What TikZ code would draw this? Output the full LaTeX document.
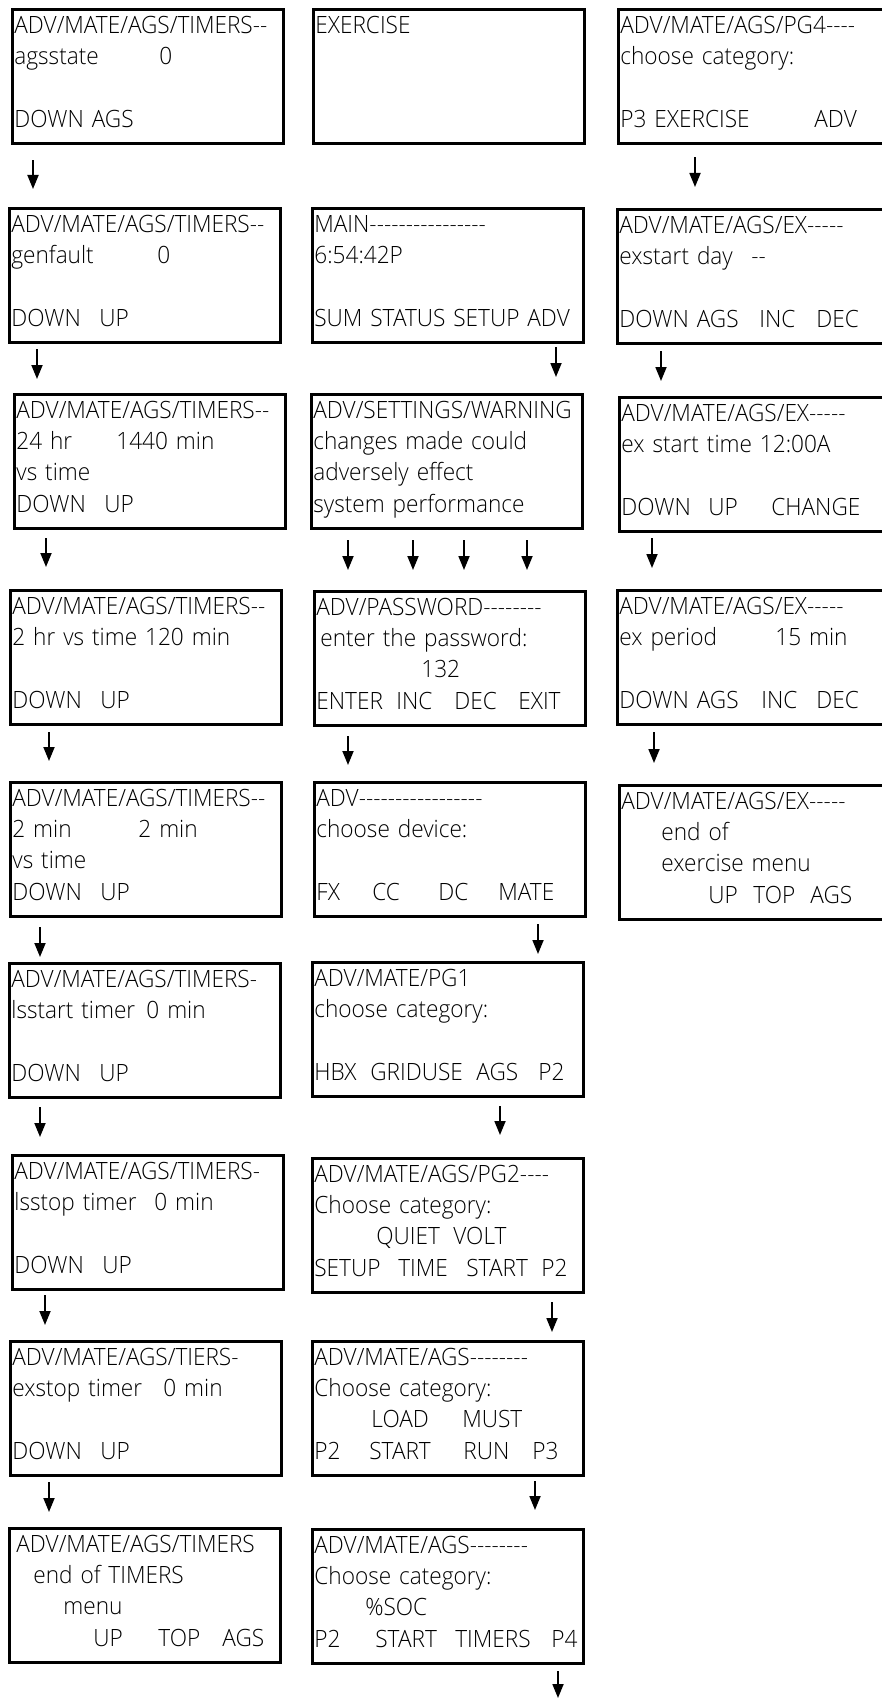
\documentclass[tikz,border=0pt]{standalone}
\usepackage{fontspec}
\usepackage{tikz}
\usetikzlibrary{arrows.meta}
\newfontfamily\lcdfont{Open Sans}[UprightFont={* Light}, FakeStretch=0.95]
\newcommand{\field}[2]{\makebox[#1pt][l]{#2}}
\exhyphenpenalty=10000
\hyphenpenalty=10000

\begin{document}
\begin{tikzpicture}[
  x=1pt, y=1pt,
  screen/.style={draw, line width=2.8pt, anchor=north west, inner xsep=2pt, inner ysep=0pt, text width=267.2pt, text height=23.8pt, text depth=110.4pt, align=left, font=\lcdfont\fontsize{23.8pt}{31.3pt}\selectfont},
  flow/.style={-{Triangle[width=11pt,length=14pt]}, line width=1.8pt},
  gap/.style 2 args={shorten <=#1pt, shorten >=#2pt},
]
\useasboundingbox (0,0) rectangle (881,-1699);

% TIMERS column
\node[screen] (t1) at (11,-8) {ADV/MATE/AGS/TIMERS--\\ \field{145}{agsstate}0\\ \mbox{}\\ DOWN AGS};
\node[screen] (t2) at (8,-207) {ADV/MATE/AGS/TIMERS--\\ \field{146}{genfault}0\\ \mbox{}\\ \field{88}{DOWN}UP};
\node[screen] (t3) at (13,-393) {ADV/MATE/AGS/TIMERS--\\ \field{100}{24 hr}1440 min\\ vs time\\ \field{88}{DOWN}UP};
\node[screen] (t4) at (9,-589) {ADV/MATE/AGS/TIMERS--\\ 2 hr vs time 120 min\\ \mbox{}\\ \field{88}{DOWN}UP};
\node[screen] (t5) at (9,-781) {ADV/MATE/AGS/TIMERS--\\ \field{126}{2 min}2 min\\ vs time\\ \field{88}{DOWN}UP};
\node[screen] (t6) at (8,-962) {ADV/MATE/AGS/TIMERS-\\ \field{135}{lsstart timer}0 min\\ \mbox{}\\ \field{88}{DOWN}UP};
\node[screen] (t7) at (11,-1154) {ADV/MATE/AGS/TIMERS-\\ \field{140}{lsstop timer}0 min\\ \mbox{}\\ \field{88}{DOWN}UP};
\node[screen] (t8) at (9,-1340) {ADV/MATE/AGS/TIERS-\\ \field{151}{exstop timer}0 min\\ \mbox{}\\ \field{88}{DOWN}UP};
\node[screen] (t9) at (8,-1527) {\hspace*{5pt}ADV/MATE/AGS/TIMERS\\ \hspace*{22pt}end of TIMERS\\ \hspace*{52pt}menu\\ \hspace*{82pt}\field{65}{UP}\field{64}{TOP}AGS};

% main menu column
\node[screen] (m1) at (312,-8) {EXERCISE};
\node[screen] (m2) at (311,-207) {MAIN----------------\\ 6:54:42P\\ \mbox{}\\ SUM STATUS SETUP ADV};
\node[screen] (m3) at (310,-393) {ADV/SETTINGS/WARNING\\ changes made could\\ adversely effect\\ system performance};
\node[screen] (m4) at (313,-590) {ADV/PASSWORD--------\\ \hspace*{4pt}enter the password:\\ \hspace*{105pt}132\\ \field{80}{ENTER}\field{58}{INC}\field{64}{DEC}EXIT};
\node[screen] (m5) at (313,-781) {ADV-----------------\\ choose device:\\ \mbox{}\\ \field{56}{FX}\field{66}{CC}\field{60}{DC}MATE};
\node[screen] (m6) at (311,-961) {ADV/MATE/PG1\\ choose category:\\ \mbox{}\\ \field{56}{HBX}\field{106}{GRIDUSE}\field{62}{AGS}P2};
\node[screen] (m7) at (311,-1157) {ADV/MATE/AGS/PG2----\\ Choose category:\\ \hspace*{62pt}\field{77}{QUIET}VOLT\\ \field{84}{SETUP}\field{68}{TIME}\field{75}{START}P2};
\node[screen] (m8) at (311,-1340) {ADV/MATE/AGS--------\\ Choose category:\\ \hspace*{57pt}\field{91}{LOAD}MUST\\ \field{55}{P2}\field{94}{START}\field{69}{RUN}P3};
\node[screen] (m9) at (311,-1528) {ADV/MATE/AGS--------\\ Choose category:\\ \hspace*{51pt}\%SOC\\ \field{61}{P2}\field{80}{START}\field{96}{TIMERS}P4};
\coordinate (more) at (558,-1698);

% EXERCISE column
\node[screen] (e1) at (617,-8) {ADV/MATE/AGS/PG4----\\ choose category:\\ \mbox{}\\ \field{194}{P3 EXERCISE}ADV};
\node[screen] (e2) at (616,-208) {ADV/MATE/AGS/EX-----\\ \field{132}{exstart day}--\\ \mbox{}\\ \field{140}{DOWN AGS}\field{57}{INC}DEC};
\node[screen] (e3) at (618,-396) {ADV/MATE/AGS/EX-----\\ ex start time 12:00A\\ \mbox{}\\ \field{87}{DOWN}\field{63}{UP}CHANGE};
\node[screen] (e4) at (616,-589) {ADV/MATE/AGS/EX-----\\ \field{156}{ex period}15 min\\ \mbox{}\\ \field{142}{DOWN AGS}\field{55}{INC}DEC};
\node[screen] (e5) at (618,-784) {ADV/MATE/AGS/EX-----\\ \hspace*{40pt}end of\\ \hspace*{40pt}exercise menu\\ \hspace*{87pt}\field{45}{UP}\field{57}{TOP}AGS};

% Arrows
\draw[flow, gap={15.4}{18}] ([xshift=22pt]t1.south west) -- ([xshift=25pt]t2.north west);
\draw[flow, gap={5.4}{14}] ([xshift=29pt]t2.south west) -- ([xshift=24pt]t3.north west);
\draw[flow, gap={8.4}{22}] ([xshift=33pt]t3.south west) -- ([xshift=37pt]t4.north west);
\draw[flow, gap={6.4}{20}] ([xshift=40pt]t4.south west) -- ([xshift=40pt]t5.north west);
\draw[flow, gap={9.4}{5}] ([xshift=31pt]t5.south west) -- ([xshift=32pt]t6.north west);
\draw[flow, gap={8.4}{17}] ([xshift=32pt]t6.south west) -- ([xshift=29pt]t7.north west);
\draw[flow, gap={4.4}{15}] ([xshift=34pt]t7.south west) -- ([xshift=36pt]t8.north west);
\draw[flow, gap={5.4}{15}] ([xshift=40pt]t8.south west) -- ([xshift=41pt]t9.north west);

\draw[flow, gap={3.4}{16}] ([xshift=245pt]m2.south west) -- ([xshift=246pt]m3.north west);
\draw[flow, gap={10.4}{20}] ([xshift=38pt]m3.south west) -- ([xshift=35pt]m4.north west);
\draw[flow, gap={10.4}{20}] ([xshift=103pt]m3.south west) -- ([xshift=100pt]m4.north west);
\draw[flow, gap={10.4}{20}] ([xshift=154pt]m3.south west) -- ([xshift=151pt]m4.north west);
\draw[flow, gap={10.4}{20}] ([xshift=217pt]m3.south west) -- ([xshift=214pt]m4.north west);
\draw[flow, gap={9.4}{16}] ([xshift=35pt]m4.south west) -- ([xshift=35pt]m5.north west);
\draw[flow, gap={6.4}{7}] ([xshift=225pt]m5.south west) -- ([xshift=227pt]m6.north west);
\draw[flow, gap={8.4}{22}] ([xshift=189pt]m6.south west) -- ([xshift=189pt]m7.north west);
\draw[flow, gap={8.4}{8}] ([xshift=241pt]m7.south west) -- ([xshift=241pt]m8.north west);
\draw[flow, gap={4.4}{18}] ([xshift=224pt]m8.south west) -- ([xshift=224pt]m9.north west);
\draw[flow, gap={6.4}{0}] ([xshift=247pt]m9.south west) -- (more);

\draw[flow, gap={12.4}{21}] ([xshift=78pt]e1.south west) -- ([xshift=79pt]e2.north west);
\draw[flow, gap={6.4}{15}] ([xshift=45pt]e2.south west) -- ([xshift=43pt]e3.north west);
\draw[flow, gap={5.4}{21}] ([xshift=34pt]e3.south west) -- ([xshift=36pt]e4.north west);
\draw[flow, gap={6.4}{21}] ([xshift=38pt]e4.south west) -- ([xshift=36pt]e5.north west);

\end{tikzpicture}
\end{document}
